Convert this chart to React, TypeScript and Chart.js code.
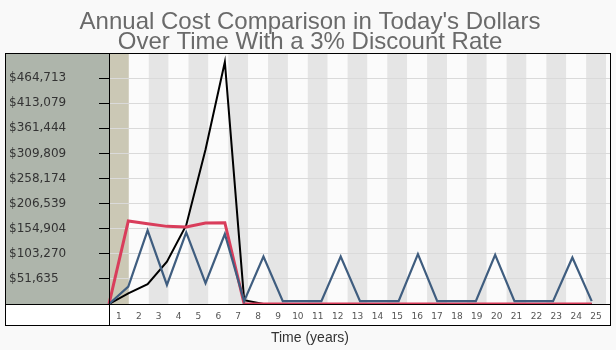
import React, { useEffect, useRef } from 'react';
import { Chart, registerables } from 'chart.js';

Chart.register(...registerables);

// ---- data ----
const years = [0, 1, 2, 3, 4, 5, 6, 7, 8, 9, 10, 11, 12, 13, 14, 15, 16, 17, 18, 19, 20, 21, 22, 23, 24, 25];
const xLabels = ['1', '2', '3', '4', '5', '6', '7', '8', '9', '10', '11', '12', '13', '14', '15', '16', '17', '18', '19', '20', '21', '22', '23', '24', '25'];
const yTickValues = [51635, 103270, 154904, 206539, 258174, 309809, 361444, 413079, 464713];
const yTickLabels = ['$51,635', '$103,270', '$154,904', '$206,539', '$258,174', '$309,809', '$361,444', '$413,079', '$464,713'];
const yMax = 516348;

const blueSeries = [0, 35700, 151400, 39200, 147300, 42800, 144000, 6000, 97700, 6000, 6000, 6000, 97700, 6000, 6000, 6000, 102600, 6000, 6000, 6000, 101200, 6000, 6000, 6000, 95600, 6000];
const redSeries = [0, 170800, 165200, 159700, 158400, 166700, 167300, 0, 0, 0, 0, 0, 0, 0, 0, 0, 0, 0, 0, 0, 0, 0, 0, 0, 0, 0];
const blackSeries = [0, 22000, 40700, 87000, 162000, 318000, 498000, 8000, 0, 0, 0, 0, 0, 0, 0, 0, 0, 0, 0, 0, 0, 0, 0, 0, 0, 0];

const titleLines = ["Annual Cost Comparison in Today's Dollars", 'Over Time With a 3% Discount Rate'];
const xTitle = 'Time (years)';

// ---- styling ----
const X_DATA_MAX = 26;
const X_BAND_MAX = 25.25;
const PAGE_BG = '#f9f9f9';
const PANEL = '#aeb5ab';
const TAN = '#cbc8b5';
const BAND_LIGHT = '#fbfbfb';
const BAND_DARK = '#e5e5e5';
const BOX_LEFT = 5;

const toPts = (arr: number[]) => arr.map((v, i) => ({ x: years[i], y: v }));

const framePlugin = {
  id: 'frame',
  beforeDraw(chart: any) {
    const { ctx, chartArea: a, scales } = chart;
    const xb = scales.xb;
    const boxBottom = a.bottom + xb.height;
    ctx.save();
    ctx.fillStyle = PAGE_BG;
    ctx.fillRect(0, 0, chart.width, chart.height);
    ctx.fillStyle = PANEL;
    ctx.fillRect(BOX_LEFT, a.top, a.left - BOX_LEFT, a.bottom - a.top);
    ctx.fillStyle = '#ffffff';
    ctx.fillRect(BOX_LEFT, a.bottom, a.right - BOX_LEFT, boxBottom - a.bottom);
    ctx.beginPath();
    ctx.rect(a.left, a.top, a.right - a.left, a.bottom - a.top);
    ctx.clip();
    for (let k = 0; k <= xLabels.length; k++) {
      const x0 = xb.getPixelForValue(k);
      const x1 = xb.getPixelForValue(k + 1);
      ctx.fillStyle = k === 0 ? TAN : k % 2 === 1 ? BAND_LIGHT : BAND_DARK;
      ctx.fillRect(x0, a.top, x1 - x0, a.bottom - a.top);
    }
    ctx.restore();
  },
  afterDraw(chart: any) {
    const { ctx, chartArea: a, scales } = chart;
    const boxBottom = a.bottom + scales.xb.height;
    ctx.save();
    ctx.strokeStyle = '#000';
    ctx.lineWidth = 1;
    ctx.strokeRect(BOX_LEFT + 0.5, a.top + 0.5, a.right - BOX_LEFT - 1, boxBottom - a.top - 1);
    ctx.beginPath();
    ctx.moveTo(a.left + 0.5, a.top);
    ctx.lineTo(a.left + 0.5, boxBottom);
    ctx.moveTo(BOX_LEFT, a.bottom + 0.5);
    ctx.lineTo(a.right, a.bottom + 0.5);
    ctx.stroke();
    ctx.restore();
  },
};

export default function App() {
  const ref = useRef<HTMLCanvasElement>(null);
  useEffect(() => {
    if (!ref.current) return;
    const clip = { left: 3, top: 3, right: 3, bottom: 0 };
    const chart = new Chart(ref.current, {
      type: 'line',
      data: {
        datasets: [
          { label: 'Blue', data: toPts(blueSeries), borderColor: '#3f5d7f', borderWidth: 2.2, pointRadius: 0, tension: 0, xAxisID: 'x', yAxisID: 'y', clip } as any,
          { label: 'Red', data: toPts(redSeries), borderColor: '#d93d5b', borderWidth: 3, pointRadius: 0, tension: 0, xAxisID: 'x', yAxisID: 'y', clip } as any,
          { label: 'Black', data: toPts(blackSeries), borderColor: '#000000', borderWidth: 2, pointRadius: 0, tension: 0, xAxisID: 'x', yAxisID: 'y', clip } as any,
        ],
      },
      plugins: [framePlugin],
      options: {
        animation: false,
        responsive: false,
        devicePixelRatio: 1,
        layout: { padding: { left: 9, right: 5, top: 0, bottom: 0 } },
        plugins: {
          legend: { display: false },
          tooltip: { enabled: false },
          title: {
            display: true,
            text: titleLines,
            color: '#6a6a6a',
            font: { family: "'Liberation Sans', Arial, sans-serif", size: 24, weight: 'normal', lineHeight: 0.85 },
            padding: { top: 12.2, bottom: 0 },
          },
          subtitle: {
            display: true,
            position: 'bottom',
            text: xTitle,
            color: '#333333',
            font: { family: "'Liberation Sans', Arial, sans-serif", size: 14, weight: 'normal', lineHeight: 1.2 },
            padding: { top: 4, bottom: 3.2 },
          },
        },
        scales: {
          x: { type: 'linear', min: 0, max: X_DATA_MAX, display: false },
          xb: {
            type: 'linear',
            position: 'bottom',
            min: 0,
            max: X_BAND_MAX,
            afterBuildTicks: (s: any) => { s.ticks = xLabels.map((_, i) => ({ value: i + 0.5 })); },
            afterFit: (s: any) => { s.height = 22; },
            grid: { display: false, drawTicks: false },
            border: { display: false },
            ticks: {
              autoSkip: false,
              maxRotation: 0,
              padding: 7,
              color: '#555555',
              font: { family: "'DejaVu Sans', Verdana, sans-serif", size: 9 },
              callback: (_v: any, i: number) => xLabels[i],
            },
          },
          y: {
            type: 'linear',
            position: 'left',
            min: 0,
            max: yMax,
            afterBuildTicks: (s: any) => { s.ticks = yTickValues.map((v) => ({ value: v })); },
            afterFit: (s: any) => { s.width = 100; },
            border: { display: false },
            grid: { color: '#dadada', tickColor: '#000000', tickLength: 10, lineWidth: 1 },
            ticks: {
              crossAlign: 'far',
              color: '#333333',
              font: { family: "'DejaVu Sans', Verdana, sans-serif", size: 12 },
              callback: (_v: any, i: number) => yTickLabels[i],
            },
          },
        },
      } as any,
    });
    return () => chart.destroy();
  }, []);
  return (
    <div style={{ position: 'absolute', left: 0, top: 0, width: 616, height: 350 }}>
      <canvas ref={ref} width={616} height={350} style={{ display: 'block' }} />
    </div>
  );
}
